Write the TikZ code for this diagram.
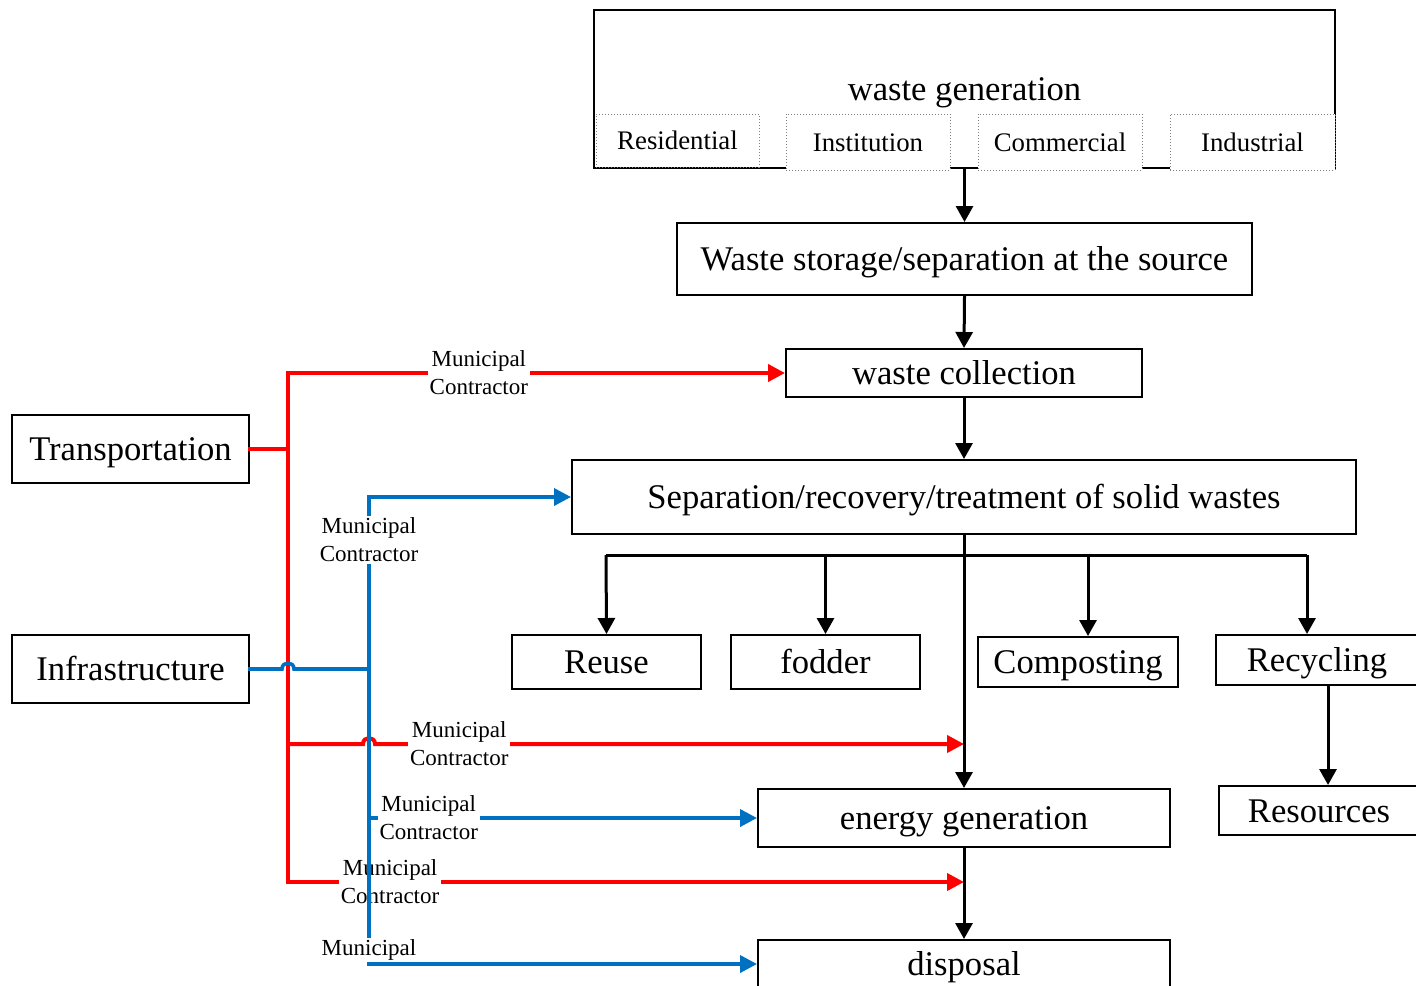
\documentclass[tikz,border=0pt]{standalone}
\usepackage{fontspec}
\setmainfont{Liberation Serif}
\usetikzlibrary{arrows.meta}
\definecolor{infblue}{RGB}{0,112,192}

\begin{document}
\begin{tikzpicture}[x=0.5pt,y=-0.5pt,
  box/.style={draw,line width=1pt,fill=white,inner sep=0pt,text height=12pt,text depth=0.2pt,font=\fontsize{17.3}{20}\selectfont},
  sub/.style={draw=gray,densely dotted,line width=0.5pt,fill=white,inner sep=0pt,text height=9.5pt,text depth=0.2pt,font=\fontsize{13.4}{16}\selectfont},
  lab/.style={fill=white,inner sep=1pt,align=center,font=\fontsize{11.5}{14}\selectfont},
  flow/.style={line width=1.5pt,-{Triangle[length=8pt,width=8.5pt]}},
  redline/.style={draw=red,line width=2pt,line cap=rect},
  blueline/.style={draw=infblue,line width=1.8pt,line cap=rect},
  tip/.style={-{Triangle[length=8.5pt,width=8.5pt]}}]
\clip (0,0) rectangle (1416,985);
\node[box,minimum width=370.5pt,minimum height=79pt] (gen) at (964.5,89) {waste generation};
\node[sub,minimum width=81.5pt,minimum height=26.5pt] (resid) at (677.5,140.5) {Residential};
\node[sub,minimum width=82pt,minimum height=28pt] (instit) at (868,142) {Institution};
\node[sub,minimum width=82pt,minimum height=28pt] (commer) at (1060,142) {Commercial};
\node[sub,minimum width=82.5pt,minimum height=28pt] (indus) at (1252.5,142) {Industrial};
\node[box,minimum width=287.5pt,minimum height=36pt] (store) at (964.5,259) {Waste storage/separation at the source};
\node[box,minimum width=178pt,minimum height=24pt] (coll) at (964,373) {waste collection};
\node[box,minimum width=392pt,minimum height=37pt] (sep) at (964,497) {Separation/recovery/treatment of solid wastes};
\node[box,minimum width=94.5pt,minimum height=27pt] (reuse) at (606.5,662) {Reuse};
\node[box,minimum width=94.5pt,minimum height=27pt] (fodder) at (825.5,662) {fodder};
\node[box,minimum width=100pt,minimum height=25pt] (compost) at (1078,662) {Composting};
\node[box,minimum width=101pt,minimum height=25pt] (recyc) at (1317,660) {Recycling};
\node[box,minimum width=100pt,minimum height=24.5pt] (resour) at (1319,810.5) {Resources};
\node[box,minimum width=206pt,minimum height=29pt] (energy) at (964,818) {energy generation};
\node[box,minimum width=206pt,minimum height=24pt] (disp) at (964,964) {disposal};
\node[box,minimum width=118.5pt,minimum height=34pt] (trans) at (130.5,449) {Transportation};
\node[box,minimum width=118.5pt,minimum height=34pt] (infra) at (130.5,669) {Infrastructure};
\coordinate (barL) at (606,555);
\coordinate (barR) at (1307,555);
\coordinate (cmpX) at (1088,555);
\coordinate (rcX) at (1328,685);
\coordinate (tJ) at (288,449);
\coordinate (tTop) at (288,373);
\coordinate (tMid) at (288,744);
\coordinate (tBot) at (288,882);
\coordinate (iJ) at (369,669);
\coordinate (iTop) at (369,497);
\coordinate (iMid) at (369,818);
\coordinate (iBot) at (369,964);
\draw[flow] (gen.south) -- (store.north);
\draw[flow] (store.south) -- (coll.north);
\draw[flow] (coll.south) -- (sep.north);
\draw[flow] (sep.south) -- (energy.north);
\draw[line width=1.5pt] (barL) -- (barR);
\draw[flow] (barL) -- (reuse.north);
\draw[flow] (barL -| fodder.north) -- (fodder.north);
\draw[flow] (cmpX) -- (cmpX |- compost.north);
\draw[flow] (barR) -- (barR |- recyc.north);
\draw[flow] (rcX) -- (rcX |- resour.north);
\draw[flow] (energy.south) -- (disp.north);
\draw[redline] (trans.east) -- (tJ);
\draw[redline] (tTop) -- (tBot);
\draw[redline,tip] (tTop) -- node[lab,pos=0.384] {Municipal\\Contractor} (coll.west);
\draw[redline,tip] (tMid) -- (363,744) .. controls (363,736) and (375,736) .. (375,744) -- node[lab,pos=0.143] {Municipal\\Contractor} (tMid -| sep.south);
\draw[redline,tip] (tBot) -- node[lab,pos=0.151] {Municipal\\Contractor} (tBot -| sep.south);
\draw[blueline] (infra.east) -- (282,669) .. controls (282,661) and (294,661) .. (294,669) -- (iJ);
\draw[blueline] (iTop) -- node[lab,pos=0.092] {Municipal\\Contractor} node[lab,pos=0.97] {Municipal} (iBot);
\draw[blueline,tip] (iTop) -- (sep.west);
\draw[blueline,tip] (iMid) -- node[lab,pos=0.154] {Municipal\\Contractor} (energy.west);
\draw[blueline,tip] (iBot) -- (disp.west);
\end{tikzpicture}
\end{document}
